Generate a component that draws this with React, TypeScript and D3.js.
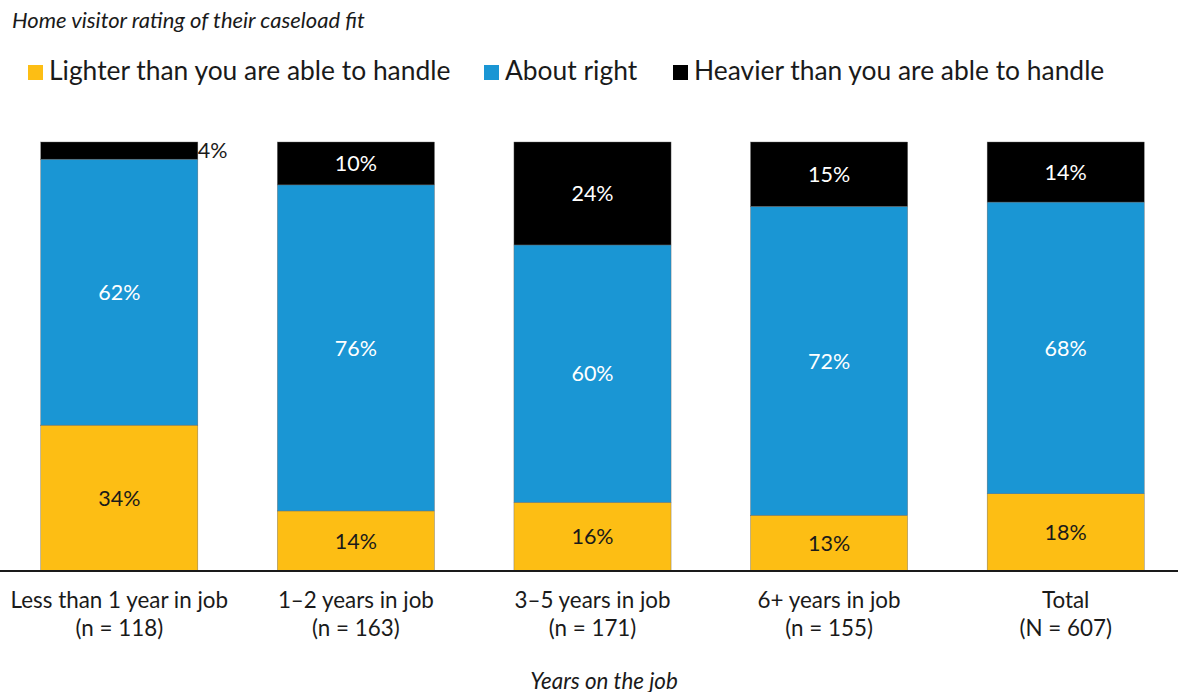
import React from "react";
import * as d3 from "d3";

const categories = ["Less than 1 year in job", "1\u20132 years in job", "3\u20135 years in job", "6+ years in job", "Total"];
const sampleLabels = ["(n = 118)", "(n = 163)", "(n = 171)", "(n = 155)", "(N = 607)"];
const seriesNames = ["Lighter than you are able to handle", "About right", "Heavier than you are able to handle"];
const lighter = [34, 14, 16, 13, 18];
const aboutRight = [62, 76, 60, 72, 68];
const heavier = [4, 10, 24, 15, 14];
const colors = ["#FDBE14", "#1A96D4", "#000000"];
const labelColors = ["#1a1a1a", "#ffffff", "#ffffff"];

const W = 1178;
const H = 692;
const FONT = "Lato, 'Open Sans', sans-serif";

export default function App() {
  const rows = categories.map((c, i) => ({ cat: c, s0: lighter[i], s1: aboutRight[i], s2: heavier[i] }));
  const stack = d3.stack<any>().keys(["s0", "s1", "s2"]);
  const layers = stack(rows);

  const x = d3.scaleBand<string>().domain(categories).range([1, 1184]).paddingInner(0.336).paddingOuter(0.168);
  const y = d3.scaleLinear().domain([0, 100]).range([571, 142]);

  const legendItems = [
    { sq: 28, tx: 49 },
    { sq: 484, tx: 505 },
    { sq: 673, tx: 694 },
  ];

  return (
    <div style={{ position: "absolute", left: 0, top: 0 }}>
      <svg width={W} height={H} style={{ display: "block", fontFamily: FONT }}>
        <text x={12} y={28} fontSize={22} fontStyle="italic" fill="#1a1a1a">
          Home visitor rating of their caseload fit
        </text>
        {seriesNames.map((n, i) => (
          <g key={n}>
            <rect x={legendItems[i].sq} y={65} width={15} height={15} fill={colors[i]} />
            <text x={legendItems[i].tx} y={80} fontSize={26.4} fill="#1a1a1a">
              {n}
            </text>
          </g>
        ))}
        {layers.map((layer, li) => (
          <g key={li}>
            {layer.map((d, di) => {
              const cat = categories[di];
              const x0 = x(cat)!;
              const bw = x.bandwidth();
              const y0 = y(d[1]);
              const y1 = y(d[0]);
              const v = d[1] - d[0];
              const small = v < 5;
              return (
                <g key={di}>
                  <rect x={x0} y={y0} width={bw} height={y1 - y0} fill={colors[li]} stroke="#666" strokeWidth={0.4} />
                  <text
                    x={small ? x0 + bw : x0 + bw / 2}
                    y={(y0 + y1) / 2}
                    dy="0.36em"
                    textAnchor={small ? "start" : "middle"}
                    fontSize={21.5}
                    fill={small ? "#1a1a1a" : labelColors[li]}
                  >
                    {v}%
                  </text>
                </g>
              );
            })}
          </g>
        ))}
        <line x1={0} x2={W} y1={571} y2={571} stroke="#1a1a1a" strokeWidth={2} />
        {categories.map((c, i) => {
          const cx = x(c)! + x.bandwidth() / 2;
          return (
            <g key={c}>
              <text x={cx} y={608} textAnchor="middle" fontSize={22.4} fill="#1a1a1a">
                {c}
              </text>
              <text x={cx} y={636} textAnchor="middle" fontSize={22.4} fill="#1a1a1a">
                {sampleLabels[i]}
              </text>
            </g>
          );
        })}
        <text x={604} y={689} textAnchor="middle" fontSize={22.4} fontStyle="italic" fill="#1a1a1a">
          Years on the job
        </text>
      </svg>
    </div>
  );
}
